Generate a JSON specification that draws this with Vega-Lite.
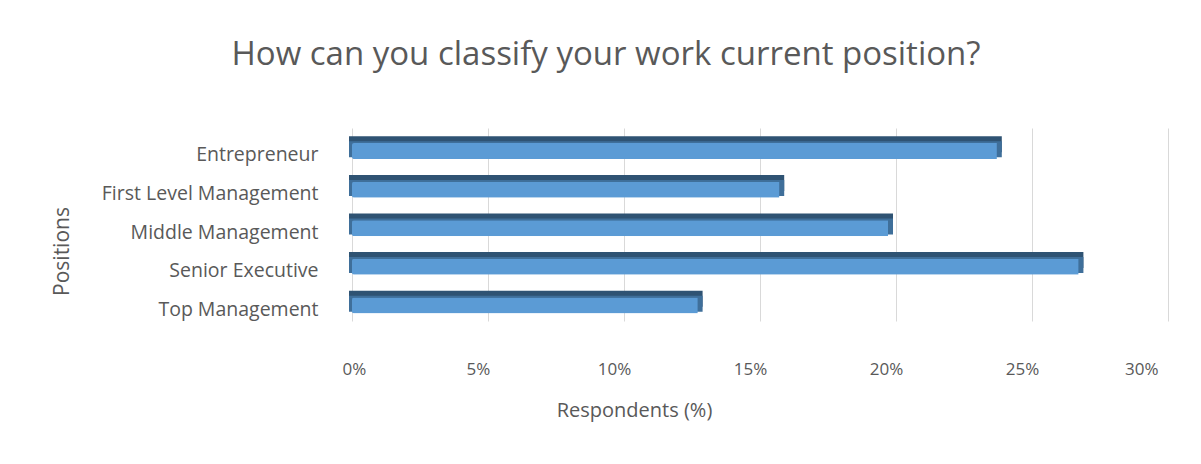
{
  "$schema": "https://vega.github.io/schema/vega-lite/v6.json",
  "width": 816,
  "height": 193,
  "autosize": {"type": "none"},
  "padding": {"left": 352, "top": 128, "right": 33, "bottom": 143},
  "background": "white",
  "title": {
    "text": "How can you classify your work current position?",
    "font": "Open Sans",
    "fontSize": 33,
    "fontWeight": "normal",
    "color": "#595959",
    "anchor": "middle",
    "dx": -154,
    "offset": 56
  },
  "data": {
    "values": [
      {"position": "Entrepreneur", "pct": 24},
      {"position": "First Level Management", "pct": 16},
      {"position": "Middle Management", "pct": 20},
      {"position": "Senior Executive", "pct": 27},
      {"position": "Top Management", "pct": 13}
    ]
  },
  "encoding": {
    "y": {
      "field": "position",
      "type": "nominal",
      "sort": null,
      "scale": {"paddingInner": 0.4, "paddingOuter": 0.2},
      "axis": {
        "title": "Positions",
        "titleFont": "Open Sans",
        "titleFontSize": 21,
        "titleFontWeight": "normal",
        "titleColor": "#595959",
        "titleX": -290,
        "titleY": 123,
        "titleAlign": "center",
        "titleBaseline": "middle",
        "titleAngle": -90,
        "domain": false,
        "ticks": false,
        "labelPadding": 34,
        "labelOffset": 8,
        "labelLimit": 400,
        "labelFont": "Open Sans",
        "labelFontSize": 19.5,
        "labelColor": "#595959"
      }
    },
    "x": {
      "field": "pct",
      "type": "quantitative",
      "scale": {"domain": [0, 30], "nice": false},
      "axis": {
        "values": [0, 5, 10, 15, 20, 25, 30],
        "labelExpr": "datum.value + '%'",
        "title": "Respondents (%)",
        "titleFont": "Open Sans",
        "titleFontSize": 20,
        "titleFontWeight": "normal",
        "titleColor": "#595959",
        "titleX": 282,
        "titleY": 89,
        "titleBaseline": "middle",
        "domain": false,
        "ticks": false,
        "grid": true,
        "gridColor": "#d9d9d9",
        "labelPadding": 40,
        "labelOffset": -10,
        "labelFont": "Open Sans",
        "labelFontSize": 17,
        "labelColor": "#595959"
      }
    }
  },
  "layer": [
    {"mark": {"type": "bar", "color": "#2f5373", "height": 16, "xOffset": -3, "yOffset": -3}},
    {"mark": {"type": "bar", "color": "#3f6f9a", "height": 16, "xOffset": -3, "yOffset": 2}},
    {"mark": {"type": "bar", "color": "#5b9bd5", "height": 16, "xOffset": -8, "yOffset": 3.75, "cornerRadius": 2}}
  ],
  "config": {"view": {"stroke": null}}
}
